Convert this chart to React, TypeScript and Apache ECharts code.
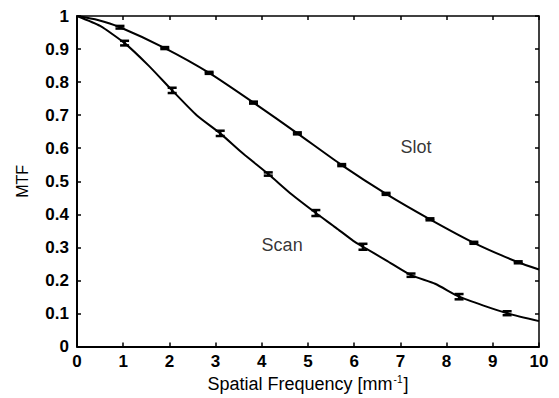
import React, { useEffect, useRef } from "react";
import * as echarts from "echarts";

// Curve readings [frequency, MTF]
const slotCurve: number[][] = [
  [0, 1], [0.45, 0.988], [0.93, 0.966], [1.9, 0.903], [2.86, 0.828], [3.82, 0.738],
  [4.77, 0.645], [5.73, 0.549], [6.69, 0.462], [7.64, 0.385], [8.59, 0.314],
  [9.55, 0.255], [10, 0.233],
];
const scanCurve: number[][] = [
  [0, 1], [0.5, 0.97], [1.03, 0.918], [1.55, 0.85], [2.06, 0.775], [2.59, 0.7],
  [3.1, 0.645], [3.6, 0.583], [4.14, 0.522], [4.65, 0.46], [5.17, 0.404],
  [5.6, 0.36], [5.98, 0.32], [6.19, 0.302], [6.7, 0.26], [7.23, 0.216],
  [7.75, 0.19], [8.27, 0.151], [8.8, 0.124], [9.31, 0.101], [10, 0.077],
];
// Error bars [frequency, MTF, half-error]
const slotErrors: number[][] = [
  [0.93, 0.966, 0.004], [1.9, 0.903, 0.003], [2.86, 0.828, 0.003], [3.82, 0.738, 0.003],
  [4.77, 0.645, 0.003], [5.73, 0.549, 0.003], [6.69, 0.462, 0.003], [7.64, 0.385, 0.003],
  [8.59, 0.314, 0.003], [9.55, 0.255, 0.003],
];
const scanErrors: number[][] = [
  [1.03, 0.918, 0.007], [2.06, 0.775, 0.008], [3.1, 0.645, 0.008], [4.14, 0.522, 0.005],
  [5.17, 0.404, 0.009], [6.19, 0.302, 0.009], [7.23, 0.216, 0.005], [8.27, 0.151, 0.008],
  [9.31, 0.101, 0.006],
];
const curveLabels: { name: string; value: number[] }[] = [
  { name: "Slot", value: [7.34, 0.603] },
  { name: "Scan", value: [4.44, 0.306] },
];

const FONT = "Liberation Sans, Arial, sans-serif";

function errorBarItem(params: any, api: any) {
  const x = api.value(0);
  const y = api.value(1);
  const e = api.value(2);
  const top = api.coord([x, y + e]);
  const bot = api.coord([x, y - e]);
  const hw = 4.5;
  const style = { stroke: "#000", lineWidth: 2.5 };
  return {
    type: "group",
    children: [
      { type: "line", shape: { x1: top[0], y1: top[1], x2: bot[0], y2: bot[1] }, style },
      { type: "line", shape: { x1: top[0] - hw, y1: top[1], x2: top[0] + hw, y2: top[1] }, style },
      { type: "line", shape: { x1: bot[0] - hw, y1: bot[1], x2: bot[0] + hw, y2: bot[1] }, style },
    ],
  };
}

export default function App() {
  const ref = useRef<HTMLDivElement>(null);
  useEffect(() => {
    if (!ref.current) return;
    const chart = echarts.init(ref.current, null, { renderer: "svg" });
    const tickLabel = { color: "#000", fontFamily: FONT, fontWeight: "bold" as const, fontSize: 17 };
    chart.setOption({
      animation: false,
      backgroundColor: "#fff",
      grid: { left: 77, top: 16, right: 20, bottom: 49, containLabel: false },
      xAxis: [
        {
          type: "value", min: 0, max: 10, interval: 1, position: "bottom",
          axisLine: { show: true, onZero: false, lineStyle: { color: "#000", width: 2 } },
          axisTick: { show: true, inside: true, length: 4, lineStyle: { color: "#000", width: 1.5 } },
          axisLabel: { ...tickLabel, margin: 6 },
          splitLine: { show: false },
          name: "{a|Spatial Frequency [mm}{s|-1}{a|]}",
          nameLocation: "middle",
          nameGap: 25,
          nameTextStyle: {
            color: "#000",
            rich: {
              a: { fontFamily: FONT, fontSize: 18, color: "#000" },
              s: { fontFamily: FONT, fontSize: 10, color: "#000", padding: [0, 1, 9, 1] },
            },
          },
        },
        {
          type: "value", min: 0, max: 10, interval: 1, position: "top",
          axisLine: { show: true, onZero: false, lineStyle: { color: "#000", width: 1.5 } },
          axisTick: { show: true, inside: true, length: 4, lineStyle: { color: "#000", width: 1.5 } },
          axisLabel: { show: false },
          splitLine: { show: false },
        },
      ],
      yAxis: [
        {
          type: "value", min: 0, max: 1, interval: 0.1, position: "left",
          axisLine: { show: true, onZero: false, lineStyle: { color: "#000", width: 2 } },
          axisTick: { show: true, inside: true, length: 4, lineStyle: { color: "#000", width: 1.5 } },
          axisLabel: { ...tickLabel, margin: 8 },
          splitLine: { show: false },
          name: "MTF",
          nameLocation: "middle",
          nameGap: 47,
          nameTextStyle: { fontFamily: FONT, fontSize: 16, color: "#000", fontWeight: "normal" },
        },
        {
          type: "value", min: 0, max: 1, interval: 0.1, position: "right",
          axisLine: { show: true, onZero: false, lineStyle: { color: "#000", width: 1.5 } },
          axisTick: { show: true, inside: true, length: 4, lineStyle: { color: "#000", width: 1.5 } },
          axisLabel: { show: false },
          splitLine: { show: false },
        },
      ],
      series: [
        {
          type: "line", name: "Slot", data: slotCurve, smooth: 0.2, showSymbol: false,
          lineStyle: { color: "#000", width: 2 }, xAxisIndex: 0, yAxisIndex: 0,
        },
        {
          type: "line", name: "Scan", data: scanCurve, smooth: 0.2, showSymbol: false,
          lineStyle: { color: "#000", width: 2 }, xAxisIndex: 0, yAxisIndex: 0,
        },
        { type: "custom", data: slotErrors, renderItem: errorBarItem, xAxisIndex: 0, yAxisIndex: 0 },
        { type: "custom", data: scanErrors, renderItem: errorBarItem, xAxisIndex: 0, yAxisIndex: 0 },
        {
          type: "scatter", data: curveLabels, symbolSize: 0, xAxisIndex: 0, yAxisIndex: 0,
          itemStyle: { color: "#000" },
          label: {
            show: true, position: "inside", formatter: (p: any) => p.name,
            fontFamily: FONT, fontSize: 18, color: "#000", textBorderWidth: 0,
          },
        },
      ],
    });
    return () => chart.dispose();
  }, []);
  return <div ref={ref} style={{ width: 559, height: 398, position: "absolute", left: 0, top: 0 }} />;
}
